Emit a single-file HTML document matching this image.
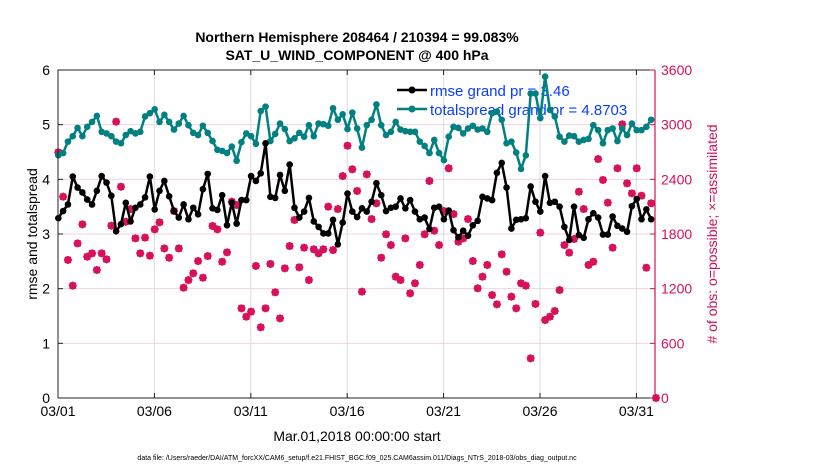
<!DOCTYPE html>
<html><head><meta charset="utf-8"><style>
body{margin:0;background:#fff;width:830px;height:470px;overflow:hidden}
svg{font-family:"Liberation Sans",sans-serif}
</style></head><body>
<svg id="chart" width="830" height="470" xmlns="http://www.w3.org/2000/svg">
<text x="357" y="42" text-anchor="middle" font-size="14" font-weight="bold">Northern Hemisphere 208464 / 210394 = 99.083%</text>
<text x="357" y="60" text-anchor="middle" font-size="14" font-weight="bold">SAT_U_WIND_COMPONENT @ 400 hPa</text>
<g id="grid"></g>
<g>
<line x1="397" y1="90" x2="427" y2="90" stroke="#000" stroke-width="2.5"/><circle cx="412" cy="90" r="3.5" fill="#000"/>
<text x="430" y="96" font-size="15" fill="#0a3cff">rmse grand pr = 3.46</text>
<line x1="397" y1="109" x2="427" y2="109" stroke="#008080" stroke-width="2.5"/><circle cx="412" cy="109" r="3.5" fill="#008080"/>
<text x="430" y="115" font-size="15" fill="#0a3cff">totalspread grand pr = 4.8703</text>
</g>
<g id="marks"></g>
<g id="axes"></g>
<text transform="translate(37,234) rotate(-90)" text-anchor="middle" font-size="14">rmse and totalspread</text>
<text transform="translate(717,234) rotate(-90)" text-anchor="middle" font-size="14" fill="#d0105a"># of obs: o=possible; ×=assimilated</text>
<text x="357" y="441" text-anchor="middle" font-size="14">Mar.01,2018 00:00:00 start</text>
<text x="357" y="460" text-anchor="middle" font-size="7">data file: /Users/raeder/DAI/ATM_forcXX/CAM6_setup/f.e21.FHIST_BGC.f09_025.CAM6assim.011/Diags_NTrS_2018-03/obs_diag_output.nc</text>
</svg>
<script>
const rmse=[3.29,3.42,3.54,4.05,3.85,3.76,3.63,3.54,3.79,4.06,3.94,3.70,3.05,3.18,3.57,3.23,3.48,3.54,3.67,4.05,3.45,3.79,3.97,3.69,3.42,3.30,3.54,3.27,3.48,3.36,3.82,4.10,
3.47,3.44,3.71,3.16,3.57,3.19,3.62,3.62,4.06,3.97,4.11,4.66,3.68,3.66,4.08,3.79,4.27,3.48,3.30,3.41,3.66,3.23,3.13,3.01,3.01,3.26,2.81,3.21,3.74,3.41,3.31,
3.47,3.41,3.59,3.93,3.71,3.42,3.48,3.50,3.65,3.47,3.62,3.41,3.27,3.30,3.09,3.48,3.50,3.27,3.43,3.07,2.94,3.06,2.97,3.16,3.24,3.68,3.65,3.62,4.12,4.30,3.85,3.10,
3.26,3.27,3.29,3.87,3.59,3.41,4.06,3.57,3.59,3.50,3.13,2.89,3.50,2.98,2.93,3.27,3.38,3.30,2.99,2.99,3.32,3.15,3.10,3.04,3.51,3.64,3.27,3.45,3.27];
const spread=[4.44,4.48,4.69,4.79,4.94,4.79,4.96,5.05,5.16,4.87,4.84,4.79,4.69,4.66,4.81,4.88,4.84,4.87,5.15,5.21,5.28,5.05,5.18,5.05,4.91,5.02,5.16,4.99,4.85,4.81,4.98,4.85,
4.70,4.54,4.52,4.48,4.60,4.34,4.68,4.84,4.79,4.65,5.25,5.33,4.70,4.83,5.02,4.92,4.70,4.75,4.85,4.78,4.99,4.79,5.02,5.01,4.98,5.30,5.09,5.19,4.92,5.22,4.93,
4.58,4.99,5.09,5.37,4.99,4.81,4.87,5.05,4.91,4.88,4.87,4.87,4.69,4.61,4.48,4.72,4.48,4.35,4.78,4.96,4.94,4.84,4.93,4.98,4.91,4.93,4.87,5.21,5.24,5.09,4.66,4.69,
4.49,4.19,4.44,5.57,5.57,5.12,5.88,5.27,5.15,4.78,4.69,4.80,4.79,4.69,4.72,4.74,4.99,4.90,4.66,4.90,4.93,4.70,4.93,4.81,5.02,4.90,4.90,4.96,5.09];
const obs=[2696,2210,1515,1233,1697,1906,1551,1588,1405,1588,1522,1891,3033,2319,1935,2074,1752,1588,1760,1562,1851,1928,1642,1540,2052,1642,1211,1295,1368,1503,1320,1558,
1888,1851,1496,1599,2155,2118,984,893,948,1449,776,984,1471,1160,874,1423,1668,1954,1434,1650,1295,1632,1588,1632,2100,1624,2074,2436,2769,2510,2272,
1167,2455,1964,2137,1540,1797,1679,1332,1295,1752,1149,1259,1460,1797,2382,1836,1679,2052,2521,2019,1716,1752,1964,1503,1204,1332,1460,1130,1028,1577,1386,
1112,984,1259,1233,435,1032,1815,856,893,955,1185,1679,1595,1745,2264,2074,1460,1496,2623,2393,2144,1650,2521,3004,2356,2246,2521,2221,1430,2137,0];
const leftTicks=[0,1,2,3,4,5,6];
const rightTicks=[0,600,1200,1800,2400,3000,3600];
const xTickLabels=["03/01","03/06","03/11","03/16","03/21","03/26","03/31"];
const xTickDays=[0,5,10,15,20,25,30];

const X0=58,X1=655,YT=70,YB=398;
const stepsPerDay=4, pxPerStep=4.82;
const xs=i=>X0+0.3+i*pxPerStep;
const xd=d=>X0+d*stepsPerDay*pxPerStep;
const yl=v=>YB-(v/6)*(YB-YT);
const yr=v=>YB-(v/3600)*(YB-YT);
const NS="http://www.w3.org/2000/svg";
function mk(tag,attrs,parent){const e=document.createElementNS(NS,tag);for(const k in attrs)e.setAttribute(k,attrs[k]);parent.appendChild(e);return e;}
const grid=document.getElementById('grid'),marks=document.getElementById('marks'),axes=document.getElementById('axes');
mk('rect',{x:X0,y:YT,width:X1-X0,height:YB-YT,fill:'#fff'},grid);
leftTicks.forEach(v=>{if(v>0&&v<6){const l=mk('line',{x1:X0,x2:X1,y1:yl(v),y2:yl(v),stroke:'#f2d3df','stroke-width':1},grid);

}});
xTickDays.forEach(d=>{if(d>0){const l=mk('line',{x1:xd(d),x2:xd(d),y1:YT,y2:YB,stroke:'#dcdcdc','stroke-width':1},grid);

}});
obs.forEach((v,i)=>{const g=mk('g',{},marks);


const cx=xs(i),cy=yr(v),c='#d6105a';
mk('circle',{cx:cx,cy:cy,r:3,fill:'none',stroke:c,'stroke-width':1.6},g);
mk('path',{d:`M${cx-4} ${cy}H${cx+4}M${cx} ${cy-4}V${cy+4}M${cx-3} ${cy-3}L${cx+3} ${cy+3}M${cx-3} ${cy+3}L${cx+3} ${cy-3}`,stroke:c,'stroke-width':1.6},g);});
function series(arr,color,name){const d=arr.map((v,i)=>(i?'L':'M')+xs(i).toFixed(1)+' '+yl(v).toFixed(1)).join('');
const p=mk('path',{d:d,fill:'none',stroke:color,'stroke-width':2.5,'stroke-linejoin':'round'},marks);


arr.forEach((v,i)=>{const c=mk('circle',{cx:xs(i),cy:yl(v),r:3.3,fill:color},marks);

});}
series(spread,'#008080','totalspread');
series(rmse,'#000','rmse');
mk('path',{d:`M${X0} ${YB}V${YT}H${X1}`,fill:'none',stroke:'#222','stroke-width':1},axes);
mk('line',{x1:X0,x2:X1,y1:YB,y2:YB,stroke:'#222','stroke-width':1},axes);
mk('line',{x1:X1,x2:X1,y1:YT,y2:YB,stroke:'#d6105a','stroke-width':1.2},axes);
leftTicks.forEach(v=>{mk('line',{x1:X0,x2:X0+5,y1:yl(v),y2:yl(v),stroke:'#222'},axes);
const t=mk('text',{x:X0-8,y:yl(v)+5,'text-anchor':'end','font-size':14},axes);t.textContent=v;

});
rightTicks.forEach(v=>{mk('line',{x1:X1-5,x2:X1,y1:yr(v),y2:yr(v),stroke:'#d6105a'},axes);
const t=mk('text',{x:X1+6,y:yr(v)+5,'font-size':14,fill:'#d6105a'},axes);t.textContent=v;

});
xTickDays.forEach((d,k)=>{mk('line',{x1:xd(d),x2:xd(d),y1:YB,y2:YB-5,stroke:'#222'},axes);mk('line',{x1:xd(d),x2:xd(d),y1:YT,y2:YT+5,stroke:'#222'},axes);
const t=mk('text',{x:xd(d),y:YB+18,'text-anchor':'middle','font-size':14},axes);t.textContent=xTickLabels[k];

});
</script>
</body></html>
